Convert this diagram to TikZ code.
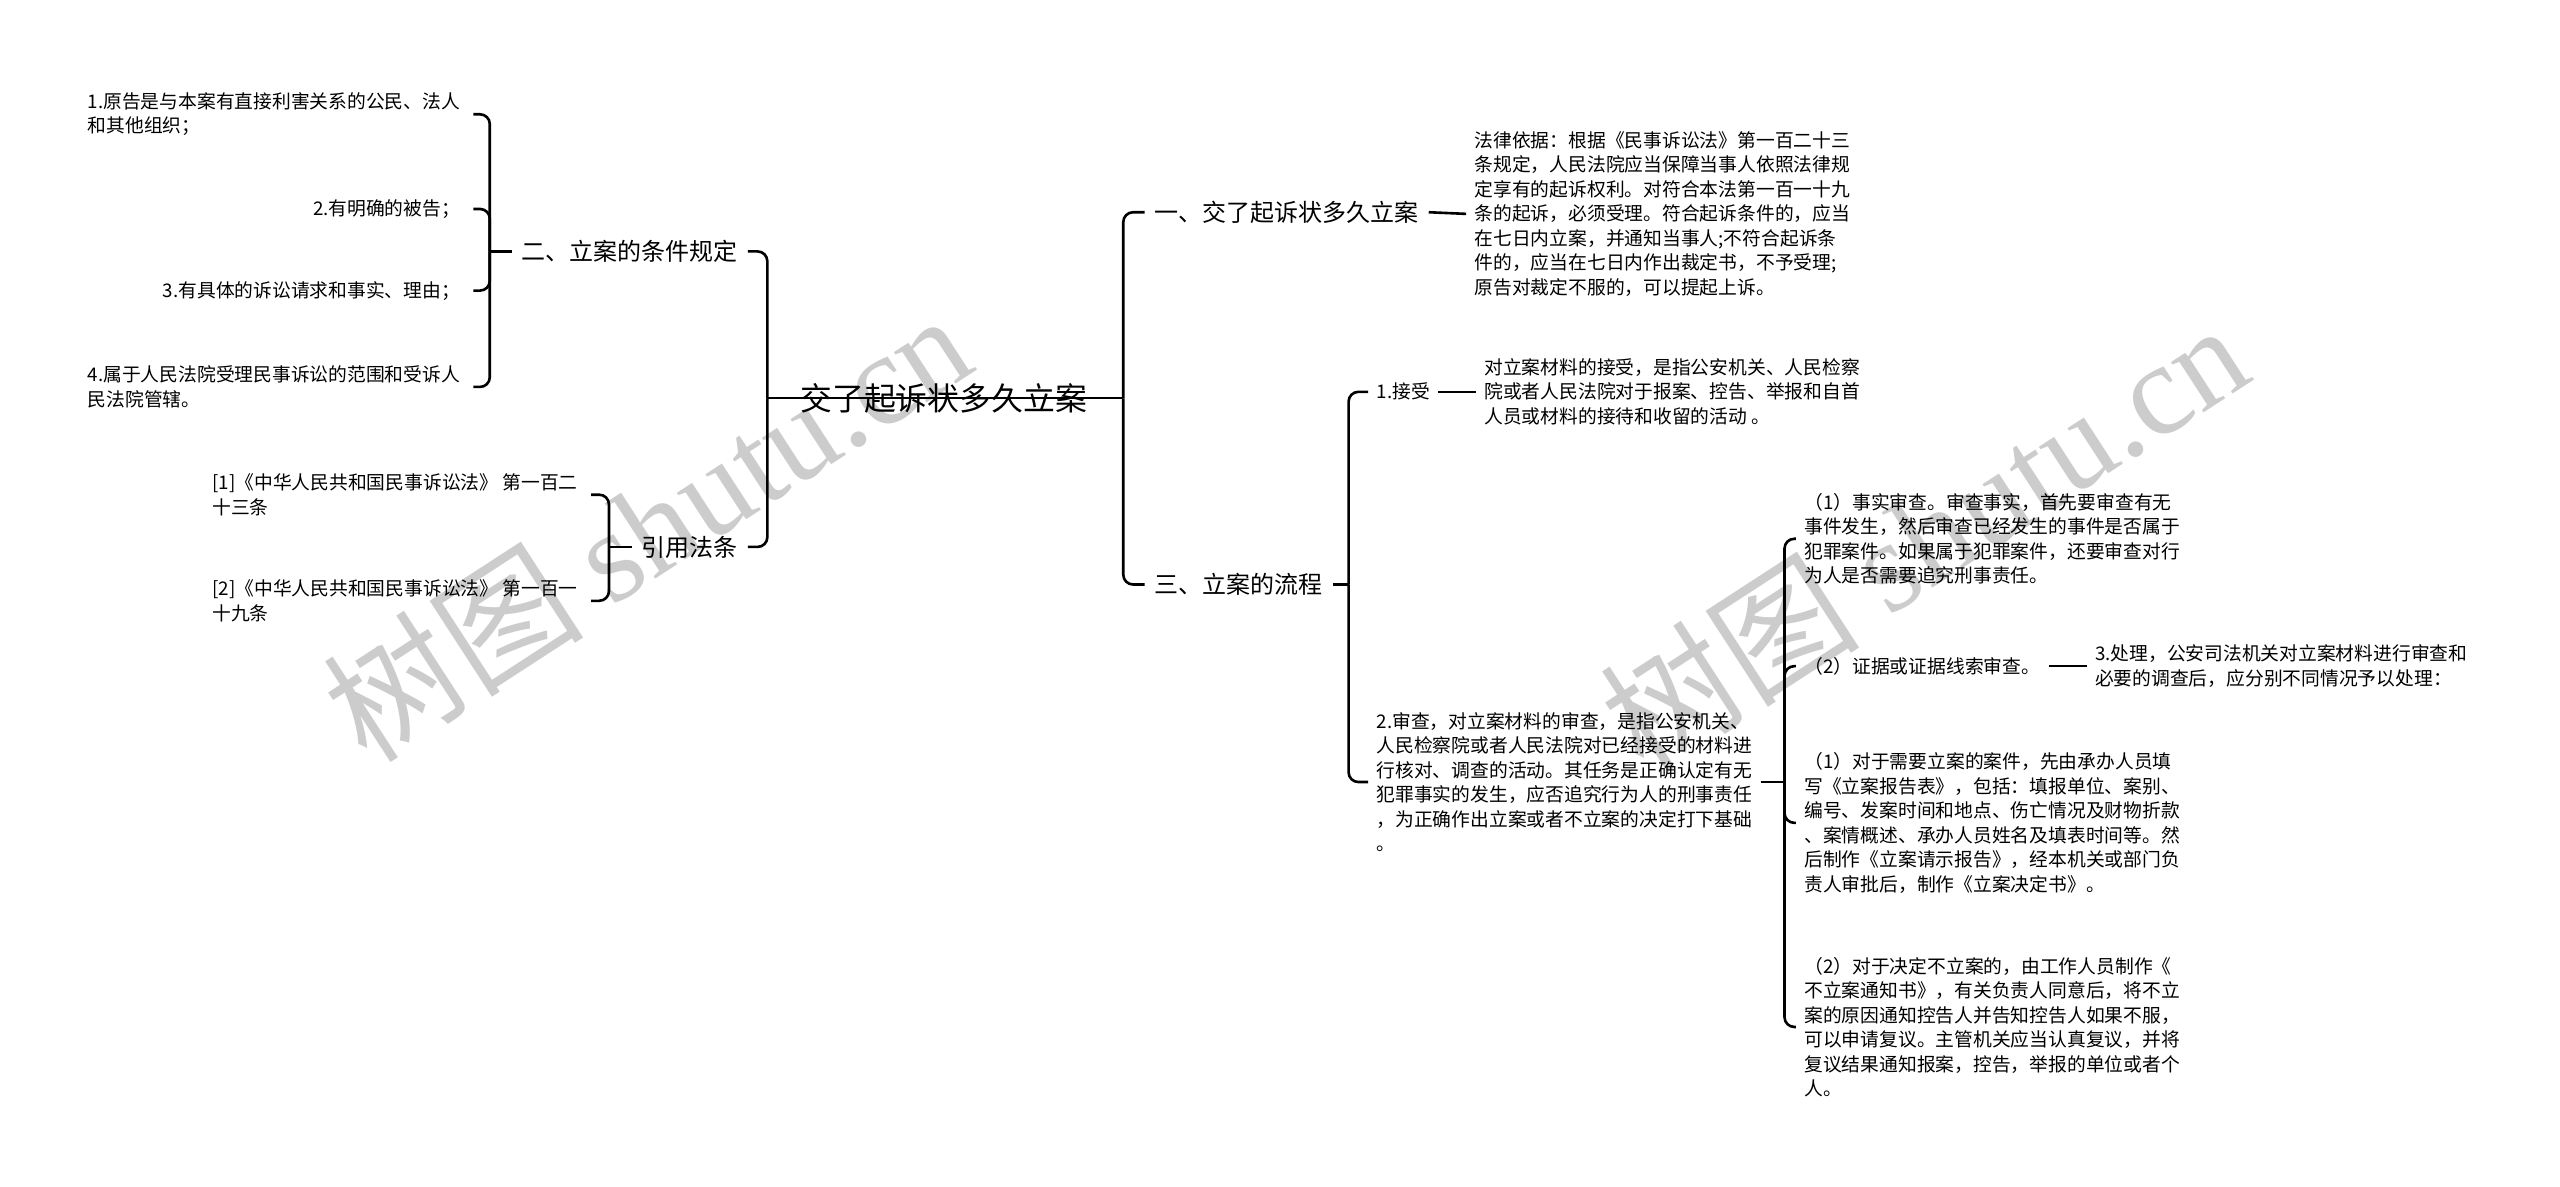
\documentclass[tikz,border=0pt]{standalone}
\usepackage{fontspec}
\setmainfont{Noto Sans CJK SC}
\newfontfamily\wmlatin{Liberation Serif}
\usetikzlibrary{positioning}
\tikzset{
  leaf/.style={font=\fontsize{11.5}{15}\selectfont, align=left, inner xsep=5pt, inner ysep=1pt, anchor=west},
  leftleaf/.style={leaf, inner xsep=8pt, anchor=east},
  branch/.style={font=\fontsize{14.7}{18}\selectfont, inner xsep=6pt, inner ysep=1pt},
  rootnode/.style={font=\fontsize{19.5}{22}\selectfont, inner sep=2pt},
  link/.style={line width=1.6pt, rounded corners=6pt},
  watermark/.style={font=\fontsize{80}{80}\selectfont, text=black!20, rotate=33}
}
\begin{document}
\begin{tikzpicture}[x=1pt,y=-1pt]
        \useasboundingbox (0,0) rectangle (1568,727);
        % Filigranes
        \node[watermark] (wm1) at (396,322) {树图 {\wmlatin shutu.cn}};
        \node[watermark] (wm2) at (1178,328) {树图 {\wmlatin shutu.cn}};
        % Racine
        \node[rootnode] (root) at (578,244) {交了起诉状多久立案};
        \coordinate (jl) at (470,244);
        \coordinate (jr) at (688,244);
        \draw[link, line width=1.2pt] (jl) -- (jr);
        % Branches gauches
        \node[branch, anchor=east] (cond) at (458,154) {二、立案的条件规定};
        \node[branch, anchor=east] (ref) at (458,335) {引用法条};
        \draw[link] (jl) |- (cond.east);
        \draw[link] (jl) |- (ref.east);
        % Conditions
        \node[leftleaf] (c1) at (290,70) {1.原告是与本案有直接利害关系的公民、法人\\和其他组织；};
        \node[leftleaf] (c2) at (290,128) {2.有明确的被告；};
        \node[leftleaf] (c3) at (290,178) {3.有具体的诉讼请求和事实、理由；};
        \node[leftleaf] (c4) at (290,237) {4.属于人民法院受理民事诉讼的范围和受诉人\\民法院管辖。};
        \coordinate (j2) at (300,154);
        \draw[link] (cond.west) -- (j2);
        \foreach \n in {c1,c2,c3,c4}
          \draw[link] (j2) |- (\n.east);
        % Articles de loi
        \node[leftleaf] (d1) at (362,303) {[1]《中华人民共和国民事诉讼法》 第一百二\\十三条};
        \node[leftleaf] (d2) at (362,368) {[2]《中华人民共和国民事诉讼法》 第一百一\\十九条};
        \coordinate (j4) at (373,335);
        \draw[link] (ref.west) -- (j4);
        \foreach \n in {d1,d2}
          \draw[link] (j4) |- (\n.east);
        % Branches droites
        \node[branch, anchor=west] (b1) at (701,130) {一、交了起诉状多久立案};
        \node[branch, anchor=west] (b3) at (701,358) {三、立案的流程};
        \draw[link] (jr) |- (b1.west);
        \draw[link] (jr) |- (b3.west);
        % Fondement juridique
        \node[leaf] (law) at (898,131) {法律依据：根据《民事诉讼法》第一百二十三\\条规定，人民法院应当保障当事人依照法律规\\定享有的起诉权利。对符合本法第一百一十九\\条的起诉，必须受理。符合起诉条件的，应当\\在七日内立案，并通知当事人;不符合起诉条\\件的，应当在七日内作出裁定书，不予受理;\\原告对裁定不服的，可以提起上诉。};
        \draw[link] (b1.east) -- (law.west);
        % Procédure
        \node[leaf] (e1) at (838,240) {1.接受};
        \node[leaf] (e1t) at (904,240) {对立案材料的接受，是指公安机关、人民检察\\院或者人民法院对于报案、控告、举报和自首\\人员或材料的接待和收留的活动 。};
        \node[leaf] (e2) at (838,479) {2.审查，对立案材料的审查，是指公安机关、\\人民检察院或者人民法院对已经接受的材料进\\行核对、调查的活动。其任务是正确认定有无\\犯罪事实的发生，应否追究行为人的刑事责任\\，为正确作出立案或者不立案的决定打下基础\\。};
        \coordinate (j3) at (826,358);
        \draw[link] (b3.east) -- (j3);
        \draw[link] (j3) |- (e1.west);
        \draw[link] (j3) |- (e2.west);
        \draw[link] (e1.east) -- (e1t.west);
        % Sous-étapes de l'examen
        \node[leaf] (f1) at (1100,330) {（1）事实审查。审查事实，首先要审查有无\\事件发生，然后审查已经发生的事件是否属于\\犯罪案件。如果属于犯罪案件，还要审查对行\\为人是否需要追究刑事责任。};
        \node[leaf] (f2) at (1100,408) {（2）证据或证据线索审查。};
        \node[leaf] (f3) at (1100,504) {（1）对于需要立案的案件，先由承办人员填\\写《立案报告表》，包括：填报单位、案别、\\编号、发案时间和地点、伤亡情况及财物折款\\、案情概述、承办人员姓名及填表时间等。然\\后制作《立案请示报告》，经本机关或部门负\\责人审批后，制作《立案决定书》。};
        \node[leaf] (f4) at (1100,629) {（2）对于决定不立案的，由工作人员制作《\\不立案通知书》，有关负责人同意后，将不立\\案的原因通知控告人并告知控告人如果不服，\\可以申请复议。主管机关应当认真复议，并将\\复议结果通知报案，控告，举报的单位或者个\\人。};
        \node[leaf] (g1) at (1278,408) {3.处理，公安司法机关对立案材料进行审查和\\必要的调查后，应分别不同情况予以处理：};
        \coordinate (j5) at (1093,479);
        \draw[link] (e2.east) -- (j5);
        \foreach \n in {f1,f2,f3,f4}
          \draw[link] (j5) |- (\n.west);
        \draw[link] (f2.east) -- (g1.west);
\end{tikzpicture}
\end{document}
